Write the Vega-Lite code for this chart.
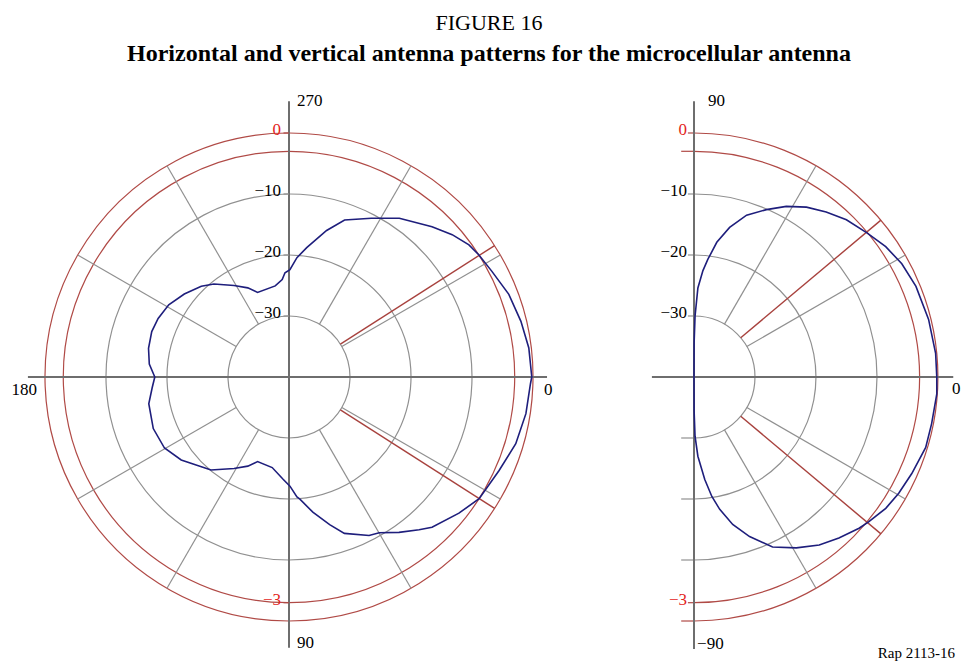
{
  "$schema": "https://vega.github.io/schema/vega-lite/v6.json",
  "padding": {"top": 12, "left": 0, "right": 0, "bottom": 0},
  "spacing": 20,
  "bounds": "flush",
  "background": "white",
  "title": {
    "text": "FIGURE 16",
    "subtitle": "Horizontal and vertical antenna patterns for the microcellular antenna",
    "anchor": "middle",
    "dx": 8,
    "font": "Liberation Serif",
    "fontSize": 22,
    "fontWeight": "normal",
    "color": "black",
    "subtitleFont": "Liberation Serif",
    "subtitleFontSize": 24,
    "subtitleFontWeight": "bold",
    "subtitleColor": "black",
    "subtitlePadding": 7,
    "offset": 9
  },
  "config": {"view": {"stroke": null}},
  "datasets": {
    "hpat": [
      {"a": 0, "db": -0.2}, {"a": 1.6, "db": -0.4}, {"a": 8.8, "db": -0.7}, {"a": 16.4, "db": -1.25},
      {"a": 24, "db": -2.3}, {"a": 32.6, "db": -3.0}, {"a": 38.7, "db": -4.3}, {"a": 46.4, "db": -6.0},
      {"a": 49.6, "db": -7.1}, {"a": 54.7, "db": -8.8}, {"a": 59.9, "db": -10.5}, {"a": 63.2, "db": -10.9},
      {"a": 70.5, "db": -12.8}, {"a": 74.6, "db": -14.9}, {"a": 80, "db": -17.5}, {"a": 84.9, "db": -19.9},
      {"a": 86.2, "db": -20.3}, {"a": 89.5, "db": -22.1}, {"a": 93.3, "db": -23.2}, {"a": 100.5, "db": -24.9},
      {"a": 110.4, "db": -25.2}, {"a": 114.8, "db": -23.9}, {"a": 121, "db": -22.5}, {"a": 130, "db": -20.1},
      {"a": 142.4, "db": -17.7}, {"a": 150.3, "db": -16.5}, {"a": 159.2, "db": -16.2}, {"a": 169.2, "db": -16.6},
      {"a": 175.5, "db": -17.5}, {"a": 180, "db": -18.0}, {"a": 185.3, "db": -17.0}, {"a": 191.5, "db": -16.5},
      {"a": 198.3, "db": -16.3}, {"a": 204.1, "db": -16.5}, {"a": 211, "db": -17.0}, {"a": 218.4, "db": -18.1},
      {"a": 226, "db": -19.3}, {"a": 231.1, "db": -20.4}, {"a": 239, "db": -22.5}, {"a": 245.2, "db": -23.9},
      {"a": 249.6, "db": -25.2}, {"a": 261.4, "db": -24.9}, {"a": 266, "db": -24.0}, {"a": 267.8, "db": -22.9},
      {"a": 270.5, "db": -22.4}, {"a": 273.8, "db": -20.4}, {"a": 277.8, "db": -18.6}, {"a": 284.4, "db": -15.2},
      {"a": 289.5, "db": -12.7}, {"a": 297.4, "db": -10.7}, {"a": 304.8, "db": -8.3}, {"a": 313.6, "db": -6.0},
      {"a": 318.9, "db": -4.5}, {"a": 323.7, "db": -3.4}, {"a": 327.2, "db": -3.0}, {"a": 332.5, "db": -2.5},
      {"a": 339.4, "db": -1.5}, {"a": 346.5, "db": -0.9}, {"a": 353.1, "db": -0.4}, {"a": 360, "db": -0.2}
    ],
    "vpat": [
      {"a": 90, "db": -40}, {"a": 89.8, "db": -34.4}, {"a": 89, "db": -30.0}, {"a": 87.5, "db": -25.4},
      {"a": 85.2, "db": -22.5}, {"a": 83.3, "db": -20.6}, {"a": 80.4, "db": -17.6}, {"a": 76.6, "db": -14.8},
      {"a": 72, "db": -12.1}, {"a": 66.6, "db": -10.1}, {"a": 61.6, "db": -8.2}, {"a": 56.5, "db": -6.6},
      {"a": 51.3, "db": -5.35}, {"a": 45.9, "db": -4.1}, {"a": 39.8, "db": -3.1}, {"a": 34.2, "db": -2.0},
      {"a": 28.6, "db": -1.2}, {"a": 22.2, "db": -0.7}, {"a": 13.8, "db": -0.4}, {"a": 5.6, "db": -0.2},
      {"a": 0, "db": -0.2}, {"a": -4, "db": -0.1}, {"a": -11.1, "db": -0.3}, {"a": -16.9, "db": -0.3},
      {"a": -23.9, "db": -0.95}, {"a": -29.6, "db": -1.4}, {"a": -34.4, "db": -1.9}, {"a": -39.7, "db": -2.8},
      {"a": -42.5, "db": -3.3}, {"a": -48, "db": -4.5}, {"a": -53.3, "db": -5.65}, {"a": -59.1, "db": -7.35},
      {"a": -65.2, "db": -9.3}, {"a": -70.8, "db": -12.3}, {"a": -75.3, "db": -15.0}, {"a": -79, "db": -17.9},
      {"a": -81.5, "db": -20.2}, {"a": -84, "db": -23.1}, {"a": -87.2, "db": -27.0}, {"a": -89, "db": -30.3},
      {"a": -89.8, "db": -34.4}, {"a": -90, "db": -40}
    ],
    "rings": [{"level": -30}, {"level": -20}, {"level": -10}, {"level": -3}, {"level": 0}],
    "hspokes": [{"a": 30}, {"a": 60}, {"a": 120}, {"a": 150}, {"a": 210}, {"a": 240}, {"a": 300}, {"a": 330}],
    "hbeam": [{"a": 32.6}, {"a": 327.4}],
    "vspokes": [{"a": 30}, {"a": 60}, {"a": -30}, {"a": -60}],
    "vbeam": [{"a": 40}, {"a": -40}],
    "ringlabels": [
      {"text": "0", "level": 0, "side": 1},
      {"text": "−10", "level": -10, "side": 1},
      {"text": "−20", "level": -20, "side": 1},
      {"text": "−30", "level": -30, "side": 1},
      {"text": "−3", "level": -3, "side": -1}
    ],
    "vlongticks": [
      {"level": -3, "side": 1},
      {"level": 0, "side": -1},
      {"level": -10, "side": -1},
      {"level": -20, "side": -1},
      {"level": -30, "side": -1}
    ],
    "one": [{}]
  },
  "hconcat": [
    {
      "width": 578,
      "height": 590,
      "layer": [
        {
          "data": {"name": "rings"},
          "mark": {"type": "arc", "filled": false, "strokeWidth": 1.2, "theta": 0, "theta2": 6.2831},
          "encoding": {
            "x": {"datum": 0, "type": "quantitative", "scale": {"domain": [-47.377, 47.377], "nice": false, "zero": false}, "axis": null},
            "y": {"datum": 0, "type": "quantitative", "scale": {"domain": [-47.377, 49.344], "nice": false, "zero": false}, "axis": null},
            "radius": {"field": "level", "type": "quantitative", "scale": {"type": "linear", "domain": [-40, 0], "range": [0, 244], "zero": false}},
            "radius2": {"field": "level"},
            "stroke": {"condition": {"test": "datum.level > -5", "value": "#b04a46"}, "value": "#909090"}
          }
        },
        {
          "data": {"name": "hspokes"},
          "transform": [
            {"calculate": "10 * cos(datum.a * PI / 180)", "as": "x1"},
            {"calculate": "-10 * sin(datum.a * PI / 180)", "as": "y1"},
            {"calculate": "40 * cos(datum.a * PI / 180)", "as": "x2"},
            {"calculate": "-40 * sin(datum.a * PI / 180)", "as": "y2"}
          ],
          "mark": {"type": "rule", "color": "#909090", "strokeWidth": 1.2},
          "encoding": {
            "x": {"field": "x1", "type": "quantitative", "scale": {"domain": [-47.377, 47.377], "nice": false, "zero": false}, "axis": null},
            "y": {"field": "y1", "type": "quantitative", "scale": {"domain": [-47.377, 49.344], "nice": false, "zero": false}, "axis": null},
            "x2": {"field": "x2"},
            "y2": {"field": "y2"}
          }
        },
        {
          "data": {"name": "hbeam"},
          "transform": [
            {"calculate": "10 * cos(datum.a * PI / 180)", "as": "x1"},
            {"calculate": "-10 * sin(datum.a * PI / 180)", "as": "y1"},
            {"calculate": "40 * cos(datum.a * PI / 180)", "as": "x2"},
            {"calculate": "-40 * sin(datum.a * PI / 180)", "as": "y2"}
          ],
          "mark": {"type": "rule", "color": "#a8423e", "strokeWidth": 1.4},
          "encoding": {
            "x": {"field": "x1", "type": "quantitative", "scale": {"domain": [-47.377, 47.377], "nice": false, "zero": false}, "axis": null},
            "y": {"field": "y1", "type": "quantitative", "scale": {"domain": [-47.377, 49.344], "nice": false, "zero": false}, "axis": null},
            "x2": {"field": "x2"},
            "y2": {"field": "y2"}
          }
        },
        {
          "data": {"name": "one"},
          "mark": {"type": "rule", "color": "#6e6e6e", "strokeWidth": 2},
          "encoding": {
            "x": {"datum": -42.8, "type": "quantitative", "scale": {"domain": [-47.377, 47.377], "nice": false, "zero": false}, "axis": null},
            "x2": {"datum": 42.3},
            "y": {"datum": 0, "type": "quantitative", "scale": {"domain": [-47.377, 49.344], "nice": false, "zero": false}, "axis": null}
          }
        },
        {
          "data": {"name": "one"},
          "mark": {"type": "rule", "color": "#6e6e6e", "strokeWidth": 2},
          "encoding": {
            "y": {"datum": -44.4, "type": "quantitative", "scale": {"domain": [-47.377, 49.344], "nice": false, "zero": false}, "axis": null},
            "y2": {"datum": 45.2},
            "x": {"datum": 0, "type": "quantitative", "scale": {"domain": [-47.377, 47.377], "nice": false, "zero": false}, "axis": null}
          }
        },
        {
          "data": {"name": "ringlabels"},
          "transform": [{"calculate": "datum.side * (datum.level + 40)", "as": "ty"}],
          "mark": {"type": "rule", "strokeWidth": 1.2},
          "encoding": {
            "x": {"datum": -0.9, "type": "quantitative", "scale": {"domain": [-47.377, 47.377], "nice": false, "zero": false}, "axis": null},
            "x2": {"datum": 0},
            "y": {"field": "ty", "type": "quantitative", "scale": {"domain": [-47.377, 49.344], "nice": false, "zero": false}, "axis": null},
            "color": {"condition": {"test": "datum.level > -5", "value": "#b04a46"}, "value": "#909090"}
          }
        },
        {
          "data": {"name": "hpat"},
          "transform": [
            {"calculate": "(datum.db + 40) * cos(datum.a * PI / 180)", "as": "px"},
            {"calculate": "-(datum.db + 40) * sin(datum.a * PI / 180)", "as": "py"}
          ],
          "mark": {"type": "line", "color": "#1e1e7c", "strokeWidth": 1.6},
          "encoding": {
            "x": {"field": "px", "type": "quantitative", "scale": {"domain": [-47.377, 47.377], "nice": false, "zero": false}, "axis": null},
            "y": {"field": "py", "type": "quantitative", "scale": {"domain": [-47.377, 49.344], "nice": false, "zero": false}, "axis": null},
            "order": {"field": "a", "type": "quantitative"}
          }
        },
        {
          "data": {"name": "ringlabels"},
          "transform": [{"calculate": "datum.side * (datum.level + 40)", "as": "ty"}],
          "mark": {"type": "text", "align": "right", "baseline": "middle", "dx": -8, "dy": -3, "font": "Liberation Serif", "fontSize": 17},
          "encoding": {
            "x": {"datum": 0, "type": "quantitative", "scale": {"domain": [-47.377, 47.377], "nice": false, "zero": false}, "axis": null},
            "y": {"field": "ty", "type": "quantitative", "scale": {"domain": [-47.377, 49.344], "nice": false, "zero": false}, "axis": null},
            "text": {"field": "text"},
            "color": {"condition": {"test": "datum.level > -5", "value": "#e3241c"}, "value": "black"}
          }
        },
        {
          "data": {"name": "one"},
          "mark": {"type": "text", "text": "270", "align": "left", "baseline": "middle", "dx": 8, "font": "Liberation Serif", "fontSize": 17, "color": "black"},
          "encoding": {
            "x": {"datum": 0, "type": "quantitative", "scale": {"domain": [-47.377, 47.377], "nice": false, "zero": false}, "axis": null},
            "y": {"datum": 45.2, "type": "quantitative", "scale": {"domain": [-47.377, 49.344], "nice": false, "zero": false}, "axis": null}
          }
        },
        {
          "data": {"name": "one"},
          "mark": {"type": "text", "text": "90", "align": "left", "baseline": "middle", "dx": 8, "font": "Liberation Serif", "fontSize": 17, "color": "black"},
          "encoding": {
            "x": {"datum": 0, "type": "quantitative", "scale": {"domain": [-47.377, 47.377], "nice": false, "zero": false}, "axis": null},
            "y": {"datum": -43.6, "type": "quantitative", "scale": {"domain": [-47.377, 49.344], "nice": false, "zero": false}, "axis": null}
          }
        },
        {
          "data": {"name": "one"},
          "mark": {"type": "text", "text": "180", "align": "right", "baseline": "middle", "font": "Liberation Serif", "fontSize": 17, "color": "black"},
          "encoding": {
            "x": {"datum": -41.3, "type": "quantitative", "scale": {"domain": [-47.377, 47.377], "nice": false, "zero": false}, "axis": null},
            "y": {"datum": -2.1, "type": "quantitative", "scale": {"domain": [-47.377, 49.344], "nice": false, "zero": false}, "axis": null}
          }
        },
        {
          "data": {"name": "one"},
          "mark": {"type": "text", "text": "0", "align": "left", "baseline": "middle", "font": "Liberation Serif", "fontSize": 17, "color": "black"},
          "encoding": {
            "x": {"datum": 41.8, "type": "quantitative", "scale": {"domain": [-47.377, 47.377], "nice": false, "zero": false}, "axis": null},
            "y": {"datum": -2.1, "type": "quantitative", "scale": {"domain": [-47.377, 49.344], "nice": false, "zero": false}, "axis": null}
          }
        }
      ]
    },
    {
      "width": 364,
      "height": 590,
      "layer": [
        {
          "data": {"name": "rings"},
          "mark": {"type": "arc", "filled": false, "strokeWidth": 1.2, "theta": 0, "theta2": 3.14159},
          "encoding": {
            "x": {"datum": 0, "type": "quantitative", "scale": {"domain": [-15.738, 43.934], "nice": false, "zero": false}, "axis": null},
            "y": {"datum": 0, "type": "quantitative", "scale": {"domain": [-47.377, 49.344], "nice": false, "zero": false}, "axis": null},
            "radius": {"field": "level", "type": "quantitative", "scale": {"type": "linear", "domain": [-40, 0], "range": [0, 244], "zero": false}},
            "radius2": {"field": "level"},
            "stroke": {"condition": {"test": "datum.level > -5", "value": "#b04a46"}, "value": "#909090"}
          }
        },
        {
          "data": {"name": "vspokes"},
          "transform": [
            {"calculate": "10 * cos(datum.a * PI / 180)", "as": "x1"},
            {"calculate": "10 * sin(datum.a * PI / 180)", "as": "y1"},
            {"calculate": "40 * cos(datum.a * PI / 180)", "as": "x2"},
            {"calculate": "40 * sin(datum.a * PI / 180)", "as": "y2"}
          ],
          "mark": {"type": "rule", "color": "#909090", "strokeWidth": 1.2},
          "encoding": {
            "x": {"field": "x1", "type": "quantitative", "scale": {"domain": [-15.738, 43.934], "nice": false, "zero": false}, "axis": null},
            "y": {"field": "y1", "type": "quantitative", "scale": {"domain": [-47.377, 49.344], "nice": false, "zero": false}, "axis": null},
            "x2": {"field": "x2"},
            "y2": {"field": "y2"}
          }
        },
        {
          "data": {"name": "vbeam"},
          "transform": [
            {"calculate": "10 * cos(datum.a * PI / 180)", "as": "x1"},
            {"calculate": "10 * sin(datum.a * PI / 180)", "as": "y1"},
            {"calculate": "40 * cos(datum.a * PI / 180)", "as": "x2"},
            {"calculate": "40 * sin(datum.a * PI / 180)", "as": "y2"}
          ],
          "mark": {"type": "rule", "color": "#a8423e", "strokeWidth": 1.4},
          "encoding": {
            "x": {"field": "x1", "type": "quantitative", "scale": {"domain": [-15.738, 43.934], "nice": false, "zero": false}, "axis": null},
            "y": {"field": "y1", "type": "quantitative", "scale": {"domain": [-47.377, 49.344], "nice": false, "zero": false}, "axis": null},
            "x2": {"field": "x2"},
            "y2": {"field": "y2"}
          }
        },
        {
          "data": {"name": "ringlabels"},
          "transform": [{"calculate": "datum.side * (datum.level + 40)", "as": "ty"}],
          "mark": {"type": "rule", "strokeWidth": 1.2},
          "encoding": {
            "x": {"datum": -1.0, "type": "quantitative", "scale": {"domain": [-15.738, 43.934], "nice": false, "zero": false}, "axis": null},
            "x2": {"datum": 0},
            "y": {"field": "ty", "type": "quantitative", "scale": {"domain": [-47.377, 49.344], "nice": false, "zero": false}, "axis": null},
            "color": {"condition": {"test": "datum.level > -5", "value": "#b04a46"}, "value": "#909090"}
          }
        },
        {
          "data": {"name": "vlongticks"},
          "transform": [{"calculate": "datum.side * (datum.level + 40)", "as": "ty"}],
          "mark": {"type": "rule", "strokeWidth": 1.2},
          "encoding": {
            "x": {"datum": -2.1, "type": "quantitative", "scale": {"domain": [-15.738, 43.934], "nice": false, "zero": false}, "axis": null},
            "x2": {"datum": 0},
            "y": {"field": "ty", "type": "quantitative", "scale": {"domain": [-47.377, 49.344], "nice": false, "zero": false}, "axis": null},
            "color": {"condition": {"test": "datum.level > -5", "value": "#b04a46"}, "value": "#909090"}
          }
        },
        {
          "data": {"name": "one"},
          "mark": {"type": "rule", "color": "#6e6e6e", "strokeWidth": 2},
          "encoding": {
            "x": {"datum": -6.9, "type": "quantitative", "scale": {"domain": [-15.738, 43.934], "nice": false, "zero": false}, "axis": null},
            "x2": {"datum": 42.5},
            "y": {"datum": 0, "type": "quantitative", "scale": {"domain": [-47.377, 49.344], "nice": false, "zero": false}, "axis": null}
          }
        },
        {
          "data": {"name": "one"},
          "mark": {"type": "rule", "color": "#6e6e6e", "strokeWidth": 2},
          "encoding": {
            "y": {"datum": -44.6, "type": "quantitative", "scale": {"domain": [-47.377, 49.344], "nice": false, "zero": false}, "axis": null},
            "y2": {"datum": 45.2},
            "x": {"datum": 0, "type": "quantitative", "scale": {"domain": [-15.738, 43.934], "nice": false, "zero": false}, "axis": null}
          }
        },
        {
          "data": {"name": "vpat"},
          "transform": [
            {"calculate": "(datum.db + 40) * cos(datum.a * PI / 180)", "as": "px"},
            {"calculate": "(datum.db + 40) * sin(datum.a * PI / 180)", "as": "py"}
          ],
          "mark": {"type": "line", "color": "#1e1e7c", "strokeWidth": 1.6},
          "encoding": {
            "x": {"field": "px", "type": "quantitative", "scale": {"domain": [-15.738, 43.934], "nice": false, "zero": false}, "axis": null},
            "y": {"field": "py", "type": "quantitative", "scale": {"domain": [-47.377, 49.344], "nice": false, "zero": false}, "axis": null},
            "order": {"field": "a", "type": "quantitative", "sort": "descending"}
          }
        },
        {
          "data": {"name": "ringlabels"},
          "transform": [{"calculate": "datum.side * (datum.level + 40)", "as": "ty"}],
          "mark": {"type": "text", "align": "right", "baseline": "middle", "dx": -7, "dy": -3, "font": "Liberation Serif", "fontSize": 17},
          "encoding": {
            "x": {"datum": 0, "type": "quantitative", "scale": {"domain": [-15.738, 43.934], "nice": false, "zero": false}, "axis": null},
            "y": {"field": "ty", "type": "quantitative", "scale": {"domain": [-47.377, 49.344], "nice": false, "zero": false}, "axis": null},
            "text": {"field": "text"},
            "color": {"condition": {"test": "datum.level > -5", "value": "#e3241c"}, "value": "black"}
          }
        },
        {
          "data": {"name": "one"},
          "mark": {"type": "text", "text": "90", "align": "left", "baseline": "middle", "font": "Liberation Serif", "fontSize": 17, "color": "black"},
          "encoding": {
            "x": {"datum": 2.3, "type": "quantitative", "scale": {"domain": [-15.738, 43.934], "nice": false, "zero": false}, "axis": null},
            "y": {"datum": 45.2, "type": "quantitative", "scale": {"domain": [-47.377, 49.344], "nice": false, "zero": false}, "axis": null}
          }
        },
        {
          "data": {"name": "one"},
          "mark": {"type": "text", "text": "−90", "align": "left", "baseline": "middle", "font": "Liberation Serif", "fontSize": 17, "color": "black"},
          "encoding": {
            "x": {"datum": 0.5, "type": "quantitative", "scale": {"domain": [-15.738, 43.934], "nice": false, "zero": false}, "axis": null},
            "y": {"datum": -43.8, "type": "quantitative", "scale": {"domain": [-47.377, 49.344], "nice": false, "zero": false}, "axis": null}
          }
        },
        {
          "data": {"name": "one"},
          "mark": {"type": "text", "text": "0", "align": "left", "baseline": "middle", "font": "Liberation Serif", "fontSize": 17, "color": "black"},
          "encoding": {
            "x": {"datum": 42.3, "type": "quantitative", "scale": {"domain": [-15.738, 43.934], "nice": false, "zero": false}, "axis": null},
            "y": {"datum": -2.0, "type": "quantitative", "scale": {"domain": [-47.377, 49.344], "nice": false, "zero": false}, "axis": null}
          }
        },
        {
          "data": {"name": "one"},
          "mark": {"type": "text", "text": "Rap 2113-16", "align": "right", "baseline": "middle", "font": "Liberation Serif", "fontSize": 15, "color": "black"},
          "encoding": {
            "x": {"datum": 42.8, "type": "quantitative", "scale": {"domain": [-15.738, 43.934], "nice": false, "zero": false}, "axis": null},
            "y": {"datum": -45.2, "type": "quantitative", "scale": {"domain": [-47.377, 49.344], "nice": false, "zero": false}, "axis": null}
          }
        }
      ]
    }
  ]
}
